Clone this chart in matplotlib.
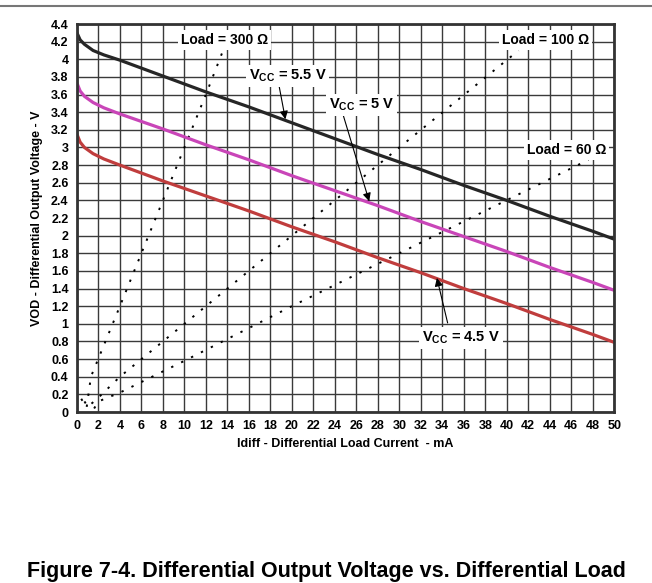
import matplotlib
matplotlib.use('Agg')
import matplotlib.pyplot as plt
import numpy as np

plt.rcParams['font.family'] = ['Liberation Sans', 'DejaVu Sans']
plt.rcParams['font.weight'] = 'bold'
plt.rcParams['mathtext.fontset'] = 'custom'
plt.rcParams['mathtext.rm'] = 'Liberation Sans:bold'
plt.rcParams['mathtext.bf'] = 'Liberation Sans:bold'
plt.rcParams['mathtext.it'] = 'Liberation Sans:bold'
plt.rcParams['mathtext.default'] = 'bf'

# supply curves (mA, V)
i_curve = [0, 0.3, 0.7, 1.5, 2.5, 4, 8, 12, 16, 20, 24, 28, 32, 36, 40, 44, 48, 50]
v_55 = [4.30, 4.22, 4.17, 4.10, 4.05, 3.99, 3.81, 3.63, 3.46, 3.28, 3.10, 2.92, 2.75, 2.57, 2.40, 2.22, 2.05, 1.96]
v_50 = [3.73, 3.64, 3.58, 3.51, 3.45, 3.38, 3.21, 3.03, 2.86, 2.68, 2.51, 2.34, 2.16, 1.99, 1.82, 1.64, 1.47, 1.38]
v_45 = [3.15, 3.06, 3.00, 2.93, 2.87, 2.80, 2.62, 2.45, 2.28, 2.10, 1.93, 1.75, 1.58, 1.40, 1.23, 1.05, 0.88, 0.79]

# load lines
i_300 = [0.4, 0.9, 1.3, 4, 8, 12, 13.6]
v_300 = [0.15, 0.05, 0.40, 1.20, 2.40, 3.60, 4.10]
i_100 = [0.7, 1.0, 1.8, 4, 10, 20, 30, 41.1]
v_100 = [0.12, 0.06, 0.14, 0.40, 1.00, 2.00, 3.00, 4.10]
i_60 = [1.6, 2.0, 4, 10, 20, 30, 47.6]
v_60 = [0.04, 0.12, 0.22, 0.58, 1.20, 1.80, 2.86]

fig = plt.figure(figsize=(6.52, 5.83), dpi=100)
fig.patch.set_facecolor('white')
ax = fig.add_axes([0.118, 0.2933, 0.824, 0.6655])

# grey rule at the top of the page
fig.add_artist(plt.Line2D([0, 1], [0.990, 0.990], color='#777777', lw=1.5, transform=fig.transFigure))

ax.set_xlim(0, 50)
ax.set_ylim(0, 4.4)
yt = np.round(np.arange(0, 4.41, 0.2), 1)
ax.set_xticks(np.arange(0, 51, 2))
ax.set_yticks(yt)
ax.set_yticklabels(['%g' % v for v in yt])
ax.grid(True, color='#3a3a3a', lw=1.0)
ax.set_axisbelow(True)
ax.tick_params(length=0, labelsize=9, pad=6)
for lab in ax.get_xticklabels() + ax.get_yticklabels():
    lab.set_fontweight('bold')
for s in ax.spines.values():
    s.set_linewidth(2)
    s.set_color('#333333')

dots = dict(color='k', lw=1.4, dashes=(1.2, 4.5))
ax.plot(i_300, v_300, **dots)
ax.plot(i_100, v_100, **dots)
ax.plot(i_60, v_60, **dots)

ax.plot(i_curve, v_55, color='#262626', lw=2.3)
ax.plot(i_curve, v_50, color='#c945b8', lw=2.3)
ax.plot(i_curve, v_45, color='#c03d3d', lw=2.3)

box = dict(facecolor='white', edgecolor='none', pad=2)
ax.text(13.7, 4.22, 'Load = 300 Ω', ha='center', va='center', fontsize=10, fontweight='bold', bbox=box)
ax.text(43.6, 4.22, 'Load = 100 Ω', ha='center', va='center', fontsize=10, fontweight='bold', bbox=box)
ax.text(45.6, 2.97, 'Load = 60 Ω', ha='center', va='center', fontsize=10, fontweight='bold', bbox=box)

arr = dict(arrowstyle='-|>', lw=0.8, color='k', mutation_scale=12, shrinkA=0, shrinkB=0)
ax.annotate('', xy=(19.4, 3.32), xytext=(18.7, 3.77), arrowprops=arr)
ax.annotate('', xy=(27.2, 2.39), xytext=(24.5, 3.48), arrowprops=arr)
ax.annotate('', xy=(33.5, 1.52), xytext=(34.5, 1.01), arrowprops=arr)
ax.text(19.6, 3.81, 'V$_{CC}$ = 5.5 V', ha='center', va='center', fontsize=10.5, fontweight='bold', bbox=box)
ax.text(26.5, 3.48, 'V$_{CC}$ = 5 V', ha='center', va='center', fontsize=10.5, fontweight='bold', bbox=box)
ax.text(35.75, 0.84, 'V$_{CC}$ = 4.5 V', ha='center', va='center', fontsize=10.5, fontweight='bold', bbox=box)

ax.set_xlabel('Idiff - Differential Load Current  - mA', fontsize=9, fontweight='bold', labelpad=4)
ax.set_ylabel('VOD - Differential Output Voltage - V', fontsize=9, fontweight='bold', labelpad=6)

fig.text(0.5, 0.001, 'Figure 7-4. Differential Output Voltage vs. Differential Load', ha='center', va='bottom',
         fontsize=15.5, fontweight='bold')

fig.savefig('out.png', dpi=100)
